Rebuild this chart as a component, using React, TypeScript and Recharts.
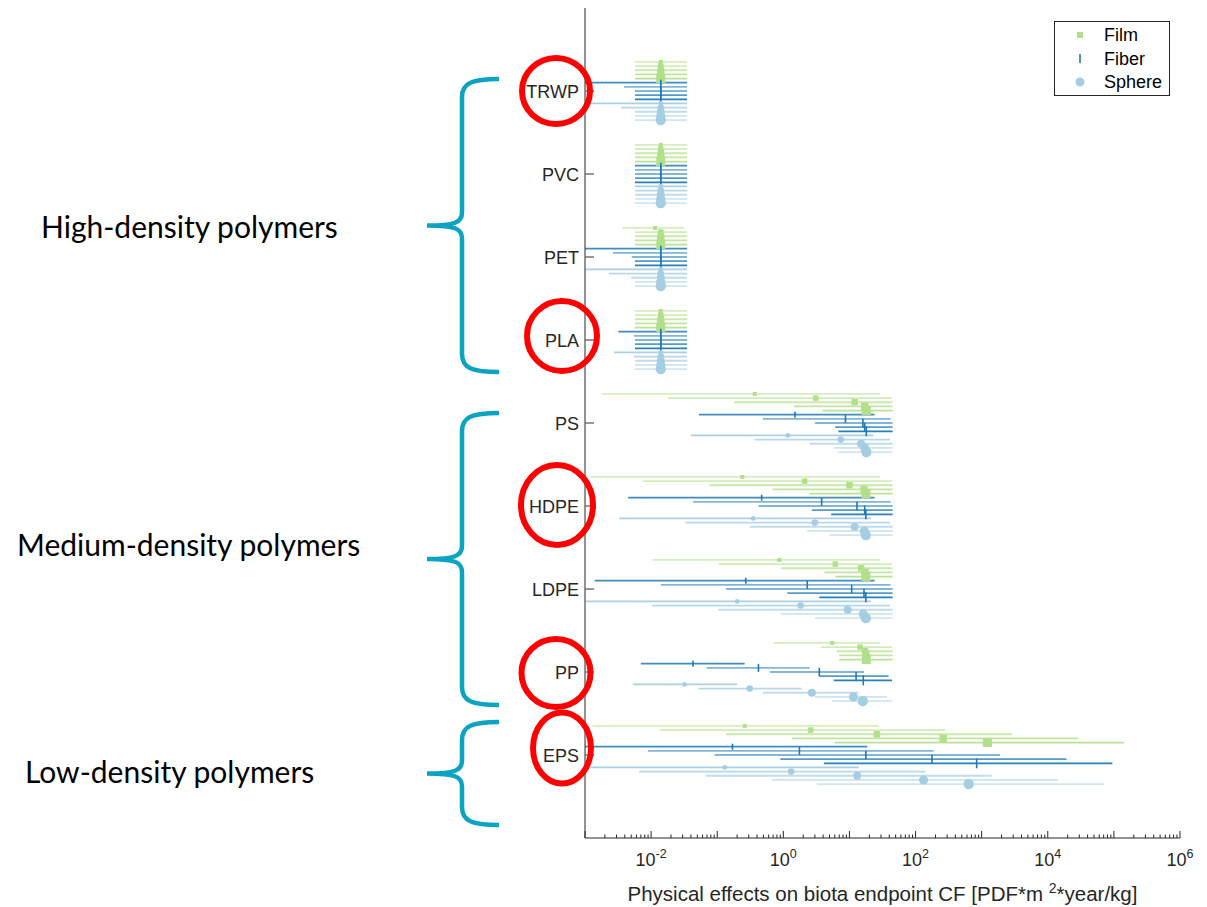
import React from "react";
import { ScatterChart, Scatter, XAxis, YAxis, ErrorBar, Legend } from "recharts";

const FONT = "'Liberation Sans', Arial, sans-serif";
const INK = "#262626";

const polymers = ["TRWP", "PVC", "PET", "PLA", "PS", "HDPE", "LDPE", "PP", "EPS"];
const shapes = ["Film", "Fiber", "Sphere"];
const shapeRgb = ["178,223,138", "31,120,180", "166,206,227"];
const xMajorExponents = [-3, -2, -1, 0, 1, 2, 3, 4, 5, 6];
const xLabelExponents = [-2, 0, 2, 4, 6];

// [lower, CF, upper] for the five size classes, smallest first
const trwpFilm = [[0.0057, 0.014, 0.035], [0.0057, 0.014, 0.035], [0.0057, 0.014, 0.035], [0.0057, 0.014, 0.035], [0.0057, 0.014, 0.035]];
const trwpFiber = [[0.001, 0.014, 0.035], [0.0039, 0.014, 0.035], [0.0057, 0.014, 0.035], [0.0057, 0.014, 0.035], [0.0057, 0.014, 0.035]];
const trwpSphere = [[0.001, 0.014, 0.035], [0.0035, 0.014, 0.035], [0.0057, 0.014, 0.035], [0.0057, 0.014, 0.035], [0.0057, 0.014, 0.035]];

const pvcFilm = [[0.0057, 0.014, 0.035], [0.0057, 0.014, 0.035], [0.0057, 0.014, 0.035], [0.0057, 0.014, 0.035], [0.0057, 0.014, 0.035]];
const pvcFiber = [[0.0057, 0.014, 0.035], [0.0057, 0.014, 0.035], [0.0057, 0.014, 0.035], [0.0057, 0.014, 0.035], [0.0057, 0.014, 0.035]];
const pvcSphere = [[0.0057, 0.014, 0.035], [0.0057, 0.014, 0.035], [0.0057, 0.014, 0.035], [0.0057, 0.014, 0.035], [0.0057, 0.014, 0.035]];

const petFilm = [[0.0037, 0.0115, 0.0315], [0.0057, 0.014, 0.035], [0.0057, 0.014, 0.035], [0.0057, 0.014, 0.035], [0.0057, 0.014, 0.035]];
const petFiber = [[0.001, 0.014, 0.035], [0.00265, 0.014, 0.035], [0.0051, 0.014, 0.035], [0.0057, 0.014, 0.035], [0.0057, 0.014, 0.035]];
const petSphere = [[0.001, 0.014, 0.035], [0.0023, 0.014, 0.035], [0.005, 0.014, 0.035], [0.0057, 0.014, 0.035], [0.0057, 0.014, 0.035]];

const plaFilm = [[0.0057, 0.014, 0.035], [0.0057, 0.014, 0.035], [0.0057, 0.014, 0.035], [0.0057, 0.014, 0.035], [0.0057, 0.014, 0.035]];
const plaFiber = [[0.0032, 0.014, 0.035], [0.0055, 0.014, 0.035], [0.0057, 0.014, 0.035], [0.0057, 0.014, 0.035], [0.0057, 0.014, 0.035]];
const plaSphere = [[0.00275, 0.014, 0.035], [0.0055, 0.014, 0.035], [0.0057, 0.014, 0.035], [0.0057, 0.014, 0.035], [0.0057, 0.014, 0.035]];

const psFilm = [[0.0018, 0.37, 29], [0.018, 3.1, 44], [0.18, 12, 45], [1.45, 17, 45], [3.9, 18, 45]];
const psFiber = [[0.053, 1.5, 24], [0.49, 8.7, 42], [3.0, 16, 45], [6.1, 17, 45], [6.8, 18, 45]];
const psSphere = [[0.04, 1.17, 23], [0.37, 7.4, 41], [2.5, 15, 45], [5.8, 17, 45], [6.8, 18, 45]];

const hdpeFilm = [[0.0012, 0.24, 29], [0.0076, 2.1, 44], [0.076, 10, 45], [0.69, 16.6, 45], [2.5, 17.7, 45]];
const hdpeFiber = [[0.0045, 0.47, 24], [0.043, 3.8, 42], [0.42, 13, 45], [2.7, 17, 45], [5.3, 17.7, 45]];
const hdpeSphere = [[0.0033, 0.35, 21], [0.033, 3.0, 41], [0.31, 12, 45], [2.3, 16.8, 45], [5.0, 17.7, 45]];

const ldpeFilm = [[0.0106, 0.87, 29], [0.104, 6.1, 44], [0.92, 15, 45], [4.2, 17.2, 45], [6.1, 17.7, 45]];
const ldpeFiber = [[0.0014, 0.27, 24], [0.014, 2.3, 42], [0.136, 10.8, 45], [1.15, 16.6, 45], [3.5, 17.7, 45]];
const ldpeSphere = [[0.00103, 0.2, 21], [0.0104, 1.83, 41], [0.104, 9.4, 45], [0.91, 16.2, 45], [3.0, 17.7, 45]];

const ppFilm = [[0.72, 5.5, 29], [3.7, 14.5, 44], [6.4, 17.2, 45], [7.0, 17.7, 45], [7.0, 18, 45]];
const ppFiber = [[0.007, 0.043, 0.26], [0.069, 0.42, 2.5], [0.63, 3.5, 16.6], [3.5, 12.6, 39], [5.8, 16.2, 44]];
const ppSphere = [[0.0053, 0.032, 0.2], [0.052, 0.31, 1.9], [0.49, 2.7, 13.6], [3.0, 11.5, 37], [5.5, 15.9, 44]];

const epsFilm = [[0.0013, 0.26, 28], [0.0135, 2.6, 283], [0.136, 26, 2860], [1.35, 262, 28900], [6.0, 1220, 142000]];
const epsFiber = [[0.001, 0.17, 18.6], [0.009, 1.75, 188], [0.091, 17.7, 1900], [0.9, 177, 19200], [4.1, 840, 94900]];
const epsSphere = [[0.0012, 0.13, 13.9], [0.0066, 1.31, 141], [0.067, 13.1, 1420], [0.67, 132, 14400], [3.2, 638, 71100]];

const cfTable: Record<string, number[][][]> = {
  TRWP: [trwpFilm, trwpFiber, trwpSphere],
  PVC: [pvcFilm, pvcFiber, pvcSphere],
  PET: [petFilm, petFiber, petSphere],
  PLA: [plaFilm, plaFiber, plaSphere],
  PS: [psFilm, psFiber, psSphere],
  HDPE: [hdpeFilm, hdpeFiber, hdpeSphere],
  LDPE: [ldpeFilm, ldpeFiber, ldpeSphere],
  PP: [ppFilm, ppFiber, ppSphere],
  EPS: [epsFilm, epsFiber, epsSphere],
};

// marker sizes / bar opacity by size class
const filmSide = [4, 5.5, 6.5, 7.5, 9];
const fiberLen = [6, 8, 8.5, 9, 10];
const sphereR = [2.4, 3.3, 4, 4.6, 5.2];
const barAlpha = [
  [0.55, 0.6, 0.7, 0.8, 0.9],
  [0.85, 0.55, 0.55, 0.75, 0.95],
  [0.95, 0.8, 0.7, 0.55, 0.5],
];

const ROW_STEP = 0.05;

const series = shapes.flatMap((shape, s) =>
  [0, 1, 2, 3, 4].map((r) => ({
    key: `${shape}-${r}`,
    s,
    r,
    points: polymers.map((p, i) => {
      const [lo, cf, hi] = cfTable[p][s][r];
      return { cf, row: i + 1 + (s * 5 + r - 7) * ROW_STEP, err: [cf - lo, hi - cf] };
    }),
  }))
);

const xTicks = xMajorExponents.flatMap((e, i) =>
  i === xMajorExponents.length - 1
    ? [Math.pow(10, e)]
    : [1, 2, 3, 4, 5, 6, 7, 8, 9].map((m) => m * Math.pow(10, e))
);

const markerFor = (s: number, r: number) => (props: any) => {
  const { cx, cy } = props;
  if (cx == null || cy == null) return <g />;
  const color = `rgb(${shapeRgb[s]})`;
  if (s === 0) {
    const w = filmSide[r];
    return <rect x={cx - w / 2} y={cy - w / 2} width={w} height={w} fill={color} />;
  }
  if (s === 1) {
    const h = fiberLen[r];
    return <line x1={cx} x2={cx} y1={cy - h / 2} y2={cy + h / 2} stroke={color} strokeWidth={1.6} />;
  }
  return <circle cx={cx} cy={cy} r={sphereR[r]} fill={color} />;
};

const XTick = ({ x, y, payload }: any) => {
  const v = payload.value;
  const e = Math.log10(v);
  const major = Math.abs(e - Math.round(e)) < 1e-6;
  const exp = Math.round(e);
  return (
    <g>
      <line x1={x} x2={x} y1={y} y2={y - (major ? 7 : 3.5)} stroke={INK} strokeWidth={1} />
      {major && xLabelExponents.includes(exp) && (
        <text x={x} y={y + 28} textAnchor="middle" fontSize={18} fill={INK} fontFamily={FONT}>
          10
          <tspan dy={-8} fontSize={12.5}>{String(exp)}</tspan>
        </text>
      )}
    </g>
  );
};

const YTick = ({ x, y, payload }: any) => (
  <g>
    <line x1={x} x2={x + 9} y1={y} y2={y} stroke="#6b6b6b" strokeWidth={1.4} />
    <text x={x - 6} y={y} dy="0.4em" textAnchor="end" fontSize={18} fill={INK} fontFamily={FONT}>
      {polymers[payload.value - 1]}
    </text>
  </g>
);

const XTitle = ({ viewBox }: any) => {
  const cx = viewBox.x + viewBox.width / 2;
  return (
    <text x={cx} y={viewBox.y + 63} textAnchor="middle" fontSize={20.5} fill={INK} fontFamily={FONT}>
      {"Physical effects on biota endpoint CF [PDF*m "}
      <tspan dy={-8} fontSize={14}>2</tspan>
      <tspan dy={8}>*year/kg]</tspan>
    </text>
  );
};

const LegendBox = () => (
  <svg width={117} height={76}>
    <rect x={0.5} y={0.5} width={115} height={74} fill="#fff" stroke={INK} strokeWidth={1} />
    {shapes.map((name, s) => {
      const cy = 14 + s * 23.5;
      const color = `rgb(${shapeRgb[s]})`;
      return (
        <g key={name}>
          {s === 0 && <rect x={23} y={cy - 3} width={6} height={6} fill={color} />}
          {s === 1 && <line x1={26} x2={26} y1={cy - 4.5} y2={cy + 4.5} stroke={color} strokeWidth={1.6} />}
          {s === 2 && <circle cx={26} cy={cy} r={4.5} fill={color} />}
          <text x={50} y={cy} dy="0.36em" fontSize={18} fill="#000" fontFamily={FONT}>
            {name}
          </text>
        </g>
      );
    })}
  </svg>
);

const BRACE = "#0ba3c1";
const groups = [
  { label: "High-density polymers", top: 79, bottom: 372, tx: 41, ty: 238 },
  { label: "Medium-density polymers", top: 413, bottom: 705, tx: 17, ty: 556 },
  { label: "Low-density polymers", top: 722, bottom: 825, tx: 25, ty: 783 },
];
const highlights = [
  { cx: 556, cy: 91, rx: 34, ry: 33 },
  { cx: 562, cy: 336, rx: 35, ry: 35 },
  { cx: 557, cy: 505, rx: 36, ry: 40 },
  { cx: 556, cy: 673, rx: 34.5, ry: 34 },
  { cx: 562, cy: 748, rx: 29, ry: 35.5 },
];

const bracePath = (top: number, bottom: number) => {
  const mid = (top + bottom) / 2;
  return `M499,${top} C472,${top} 462,${top + 4} 462,${top + 18} L462,${mid - 13} C462,${mid - 3} 455,${mid} 427,${mid} C455,${mid} 462,${mid + 3} 462,${mid + 13} L462,${bottom - 18} C462,${bottom - 4} 472,${bottom} 499,${bottom}`;
};

export default function App() {
  return (
    <div style={{ position: "absolute", left: 0, top: 0, width: 1207, height: 907, background: "#fff" }}>
      <ScatterChart width={1207} height={907} margin={{ top: 8, right: 27, bottom: 9, left: 0 }}>
        <XAxis
          type="number"
          dataKey="cf"
          scale="log"
          domain={[1e-3, 1e6]}
          allowDataOverflow
          ticks={xTicks}
          interval={0}
          tick={(p: any) => <XTick {...p} />}
          tickLine={false}
          tickSize={0}
          tickMargin={0}
          axisLine={{ stroke: INK }}
          height={60}
          label={{ content: (p: any) => <XTitle {...p} /> }}
        />
        <YAxis
          type="number"
          dataKey="row"
          domain={[0, 10]}
          reversed
          allowDataOverflow
          ticks={[1, 2, 3, 4, 5, 6, 7, 8, 9]}
          interval={0}
          tick={(p: any) => <YTick {...p} />}
          tickLine={false}
          tickSize={0}
          tickMargin={0}
          axisLine={{ stroke: INK }}
          width={585}
        />
        <Legend
          layout="vertical"
          align="center"
          verticalAlign="middle"
          content={() => <LegendBox />}
          wrapperStyle={{ position: "absolute", left: 1054, top: 21, width: 117, height: 76 }}
        />
        {series.map((ser) => (
          <Scatter
            key={ser.key}
            name={ser.key}
            data={ser.points}
            isAnimationActive={false}
            shape={markerFor(ser.s, ser.r)}
          >
            <ErrorBar
              dataKey="err"
              direction="x"
              width={0}
              stroke={`rgba(${shapeRgb[ser.s]},${barAlpha[ser.s][ser.r]})`}
              strokeWidth={1.8}
              isAnimationActive={false}
            />
          </Scatter>
        ))}
      </ScatterChart>
      <svg
        width={1207}
        height={907}
        style={{ position: "absolute", left: 0, top: 0, pointerEvents: "none" }}
      >
        {groups.map((g) => (
          <g key={g.label}>
            <path d={bracePath(g.top, g.bottom)} fill="none" stroke={BRACE} strokeWidth={4.5} strokeLinecap="butt" />
            <text x={g.tx} y={g.ty} fontSize={30} fill="#000" fontFamily="Lato, 'Open Sans', sans-serif">
              {g.label}
            </text>
          </g>
        ))}
        {highlights.map((h, i) => (
          <ellipse key={i} cx={h.cx} cy={h.cy} rx={h.rx} ry={h.ry} fill="none" stroke="#ff0000" strokeWidth={6} />
        ))}
      </svg>
    </div>
  );
}
